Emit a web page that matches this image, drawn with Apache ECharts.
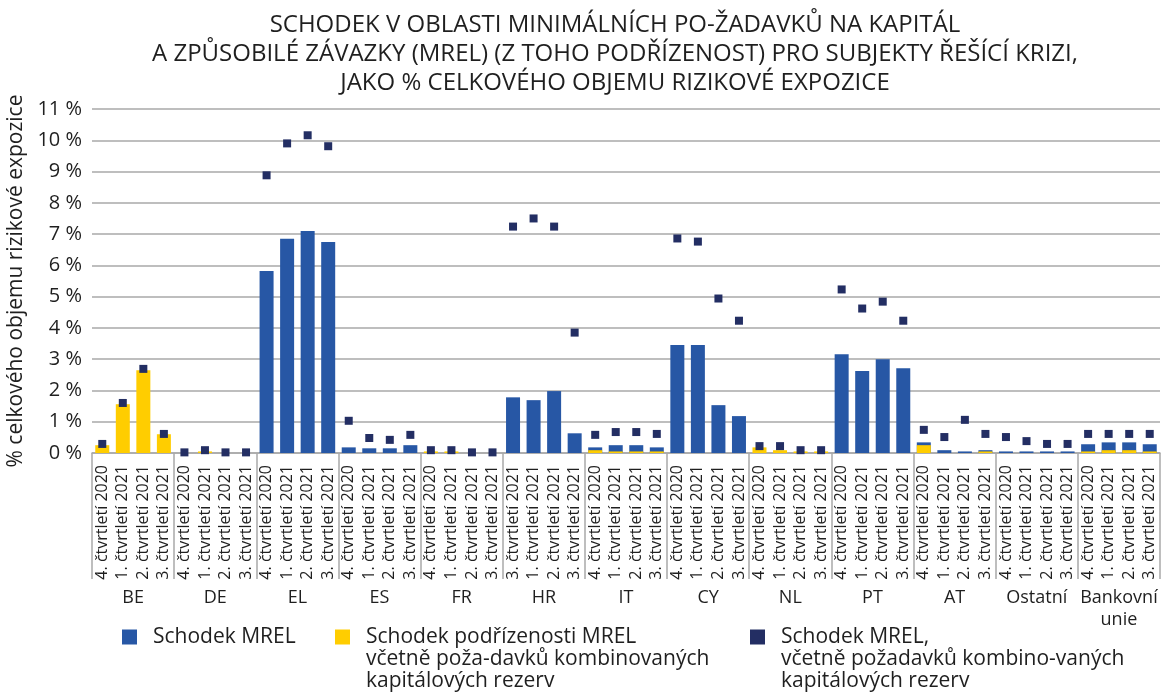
<!DOCTYPE html>
<html>
<head>
<meta charset="utf-8">
<script src="https://cdn.jsdelivr.net/npm/echarts@6/dist/echarts.min.js"></script>
<style>
html,body{margin:0;padding:0;background:#ffffff;}
#chart{width:1162px;height:696px;}
</style>
</head>
<body>
<div id="chart"></div>
<script>
// ---- data ----
const groups = ['BE', 'DE', 'EL', 'ES', 'FR', 'HR', 'IT', 'CY', 'NL', 'PT', 'AT', 'Ostatní', 'Bankovní\nunie'];
const quarters = ['4. čtvrtletí 2020', '1. čtvrtletí 2021', '2. čtvrtletí 2021', '3. čtvrtletí 2021'];
const quartersHR = ['3. čtvrtletí 2021', '1. čtvrtletí 2021', '2. čtvrtletí 2021', '3. čtvrtletí 2021'];

const seriesNames = [
  'Schodek MREL',
  'Schodek podřízenosti MREL\nvčetně poža-davků kombinovaných\nkapitálových rezerv',
  'Schodek MREL,\nvčetně požadavků kombino-vaných\nkapitálových rezerv'
];

// Schodek MREL (%)
const mrelShortfall = [
  0, 0, 0, 0,            // BE
  0, 0, 0, 0,            // DE
  5.82, 6.85, 7.10, 6.75,// EL
  0.18, 0.15, 0.15, 0.25,// ES
  0, 0, 0, 0,            // FR
  1.78, 1.69, 1.98, 0.63,// HR
  0.18, 0.25, 0.25, 0.18,// IT
  3.45, 3.45, 1.53, 1.18,// CY
  0, 0, 0, 0,            // NL
  3.16, 2.62, 3.00, 2.71,// PT
  0.34, 0.09, 0.05, 0.09,// AT
  0.05, 0.05, 0.05, 0.05,// Ostatní
  0.28, 0.34, 0.34, 0.28 // Bankovní unie
];

// Schodek podřízenosti MREL (%)
const subordinationShortfall = [
  0.25, 1.56, 2.65, 0.60,// BE
  0, 0.05, 0, 0,         // DE
  0, 0, 0, 0,            // EL
  0, 0, 0, 0,            // ES
  0.05, 0.05, 0, 0,      // FR
  0, 0, 0, 0,            // HR
  0.09, 0.05, 0.05, 0.05,// IT
  0, 0, 0, 0,            // CY
  0.18, 0.09, 0.05, 0.05,// NL
  0, 0, 0, 0,            // PT
  0.25, 0, 0, 0.05,      // AT
  0, 0, 0, 0,            // Ostatní
  0.05, 0.09, 0.09, 0.05 // Bankovní unie
];

// Schodek MREL včetně požadavků kombinovaných kapitálových rezerv (%)
const mrelWithBuffer = [
  0.29, 1.60, 2.69, 0.61,  // BE
  0.02, 0.09, 0.02, 0.02,  // DE
  8.88, 9.90, 10.16, 9.81, // EL
  1.03, 0.48, 0.42, 0.58,  // ES
  0.09, 0.09, 0.02, 0.02,  // FR
  7.24, 7.50, 7.24, 3.85,  // HR
  0.58, 0.67, 0.67, 0.61,  // IT
  6.86, 6.76, 4.94, 4.23,  // CY
  0.22, 0.22, 0.09, 0.09,  // NL
  5.23, 4.62, 4.84, 4.23,  // PT
  0.74, 0.51, 1.06, 0.61,  // AT
  0.51, 0.38, 0.29, 0.29,  // Ostatní
  0.61, 0.61, 0.61, 0.61   // Bankovní unie
];

const categories = [];
groups.forEach(g => (g === 'HR' ? quartersHR : quarters).forEach(q => categories.push(q)));

// ---- styles ----
const FONT = 'Open Sans';
const TXT = '#1f1f1f';
const GRIDC = '#a9a9a9';
const BLUE = '#2757a5';
const YELLOW = '#ffcd00';
const NAVY = '#232e63';

const legendCommon = {
  orient: 'horizontal',
  padding: 0,
  itemWidth: 15,
  itemHeight: 15,
  selectedMode: false,
  textStyle: {fontFamily: FONT, fontSize: 21, lineHeight: 22, color: TXT, padding: [0, 0, 0, 11]}
};

const chart = echarts.init(document.getElementById('chart'), null, {renderer: 'canvas'});
chart.setOption({
  animation: false,
  backgroundColor: '#ffffff',
  title: {
    text: 'SCHODEK V OBLASTI MINIMÁLNÍCH PO-ŽADAVKŮ NA KAPITÁL\nA ZPŮSOBILÉ ZÁVAZKY (MREL) (Z TOHO PODŘÍZENOST) PRO SUBJEKTY ŘEŠÍCÍ KRIZI,\nJAKO % CELKOVÉHO OBJEMU RIZIKOVÉ EXPOZICE',
    left: 615,
    top: 11,
    padding: 0,
    textAlign: 'center',
    textStyle: {fontFamily: FONT, fontSize: 24, lineHeight: 29, fontWeight: 'normal', color: TXT}
  },
  legend: [
    Object.assign({}, legendCommon, {left: 122, top: 626, data: [{name: seriesNames[0], icon: 'rect'}]}),
    Object.assign({}, legendCommon, {left: 335, top: 582, data: [{name: seriesNames[1], icon: 'rect'}], formatter: n => '\n\n' + n}),
    Object.assign({}, legendCommon, {left: 750, top: 582, data: [{name: seriesNames[2], icon: 'rect'}], formatter: n => '\n\n' + n})
  ],
  grid: {left: 92, right: 2, top: 109, bottom: 243, containLabel: false, outerBoundsMode: 'none'},
  xAxis: [
    {
      type: 'category',
      data: categories,
      position: 'bottom',
      boundaryGap: true,
      axisLine: {show: true, lineStyle: {color: GRIDC, width: 1.5}},
      axisTick: {show: false},
      axisLabel: {interval: 0, rotate: 90, margin: 12, fontFamily: FONT, fontSize: 16, color: TXT, hideOverlap: false},
      splitLine: {show: false}
    },
    {
      type: 'category',
      data: groups,
      position: 'bottom',
      boundaryGap: true,
      axisLine: {show: false},
      axisTick: {show: true, interval: 0, length: 126, lineStyle: {color: GRIDC, width: 1.5}},
      axisLabel: {interval: 0, margin: 134, fontFamily: FONT, fontSize: 18, lineHeight: 22, color: TXT, hideOverlap: false},
      splitLine: {show: false}
    }
  ],
  yAxis: {
    type: 'value',
    min: 0,
    max: 11,
    interval: 1,
    name: '% celkového objemu rizikové expozice',
    nameLocation: 'middle',
    nameGap: 57,
    nameTextStyle: {fontFamily: FONT, fontSize: 21, color: TXT},
    axisLine: {show: false},
    axisTick: {show: false},
    axisLabel: {formatter: '{value} %', margin: 10, fontFamily: FONT, fontSize: 20, color: TXT},
    splitLine: {show: true, lineStyle: {color: GRIDC, width: 1.5}}
  },
  series: [
    {
      name: seriesNames[0],
      type: 'bar',
      xAxisIndex: 0,
      data: mrelShortfall,
      barWidth: 14,
      barGap: '-100%',
      itemStyle: {color: BLUE, opacity: 1}
    },
    {
      name: seriesNames[1],
      type: 'bar',
      xAxisIndex: 0,
      data: subordinationShortfall,
      barWidth: 14,
      barGap: '-100%',
      itemStyle: {color: YELLOW, opacity: 1}
    },
    {
      name: seriesNames[2],
      type: 'scatter',
      xAxisIndex: 0,
      data: mrelWithBuffer,
      symbol: 'rect',
      symbolSize: 8,
      itemStyle: {color: NAVY, opacity: 1}
    }
  ]
});
</script>
</body>
</html>
